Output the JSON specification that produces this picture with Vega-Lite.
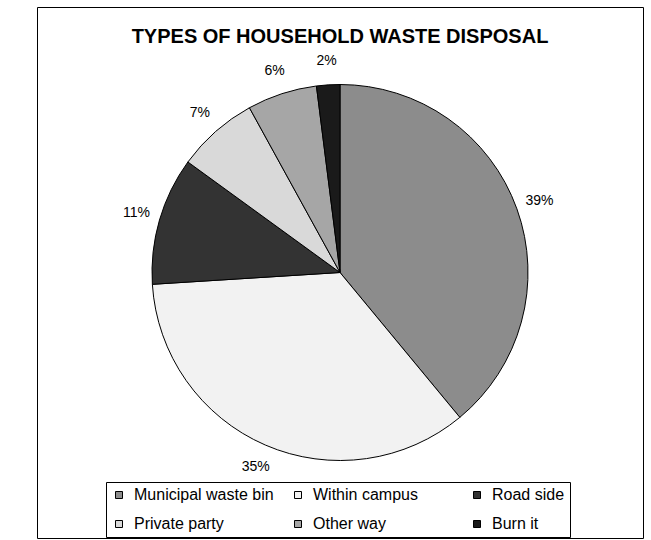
{
  "$schema": "https://vega.github.io/schema/vega-lite/v6.json",
  "width": 606,
  "height": 531,
  "autosize": {"type": "none"},
  "padding": {"left": 37, "top": 7, "right": 8, "bottom": 2},
  "background": "white",
  "view": {"stroke": "black", "strokeWidth": 1, "fill": "white"},
  "config": {"font": "Liberation Sans"},
  "title": {"text": "TYPES OF HOUSEHOLD WASTE DISPOSAL", "fontSize": 20, "font": "Liberation Sans", "fontWeight": "bold", "color": "black", "offset": -40, "anchor": "middle"},
  "data": {"values": [
    {"category": "Municipal waste bin", "value": 39, "label": "39%", "order": 1},
    {"category": "Within campus", "value": 35, "label": "35%", "order": 2},
    {"category": "Road side", "value": 11, "label": "11%", "order": 3},
    {"category": "Private party", "value": 7, "label": "7%", "order": 4},
    {"category": "Other way", "value": 6, "label": "6%", "order": 5},
    {"category": "Burn it", "value": 2, "label": "2%", "order": 6}
  ]},
  "encoding": {
    "theta": {"field": "value", "type": "quantitative", "stack": true},
    "order": {"field": "order", "type": "quantitative"}
  },
  "layer": [
    {
      "mark": {"type": "arc", "outerRadius": 188, "stroke": "black", "strokeWidth": 1},
      "encoding": {
        "color": {
          "field": "category", "type": "nominal",
          "scale": {
            "domain": ["Municipal waste bin", "Within campus", "Road side", "Private party", "Other way", "Burn it"],
            "range": ["#8c8c8c", "#f2f2f2", "#333333", "#d9d9d9", "#a6a6a6", "#1a1a1a"]
          },
          "legend": {
            "orient": "none", "legendX": 69, "legendY": 475,
            "direction": "horizontal", "columns": 3, "gridAlign": "all",
            "strokeColor": "black", "fillColor": "white", "padding": 5,
            "rowPadding": 13, "columnPadding": 16,
            "symbolType": "square", "symbolSize": 49, "symbolStrokeColor": "black", "symbolStrokeWidth": 1,
            "labelFontSize": 16, "labelFont": "Liberation Sans", "labelColor": "black", "labelOffset": 7, "labelLimit": 300,
            "title": null
          }
        }
      }
    },
    {
      "mark": {"type": "text", "radius": 212, "fontSize": 14, "font": "Liberation Sans", "color": "black"},
      "encoding": {"text": {"field": "label"}}
    }
  ]
}
